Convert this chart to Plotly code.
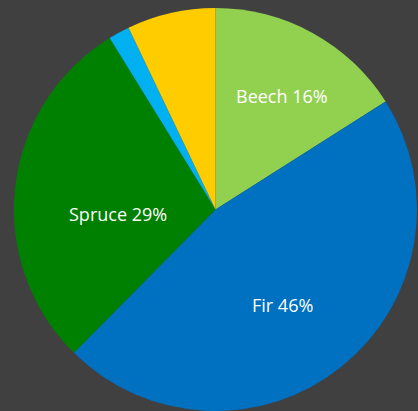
import math
import plotly.graph_objects as go

species = ["Beech", "Fir", "Spruce", "Larch", "Other"]
shares = [16.0, 46.4, 28.8, 1.7, 7.1]
labels_shown = ["Beech 16%", "Fir 46%", "Spruce 29%", "", ""]
colors = ["#92D050", "#0070C0", "#008000", "#00B0F0", "#FFCC00"]

W, H = 418, 411
ML, MR, MT, MB = 13, 0, 8, 0

fig = go.Figure(go.Pie(
    labels=species,
    values=shares,
    textinfo="none",
    sort=False,
    direction="clockwise",
    rotation=0,
    marker=dict(colors=colors, line=dict(width=0)),
    showlegend=False,
    hoverinfo="label+percent",
))

# label placement (style): radial fraction and pixel nudges per labelled slice
label_style = {
    "Beech": (0.65, 3, -1),
    "Fir": (0.57, -5, -6),
    "Spruce": (0.48, -1, -15),
}
pw, ph = W - ML - MR, H - MT - MB
R = min(pw, ph) / 2
total = sum(shares)
cum = 0.0
for name, val, txt in zip(species, shares, labels_shown):
    mid = (cum + val / 2) / total * 2 * math.pi
    cum += val
    if not txt:
        continue
    f, xs, ys = label_style[name]
    dx = f * R * math.sin(mid)
    dy = f * R * math.cos(mid)
    fig.add_annotation(
        x=0.5 + dx / pw, y=0.5 + dy / ph, xref="paper", yref="paper",
        text=txt, showarrow=False, xshift=xs, yshift=ys,
        font=dict(family="Open Sans", size=18, color="white"),
        xanchor="center", yanchor="middle",
    )

fig.update_layout(
    width=W, height=H,
    margin=dict(l=ML, r=MR, t=MT, b=MB),
    paper_bgcolor="#404040",
    plot_bgcolor="#404040",
)
fig.write_html(
    "out.html",
    config={"displayModeBar": False},
    post_script="document.body.style.margin='0';document.body.style.background='#404040';",
)
